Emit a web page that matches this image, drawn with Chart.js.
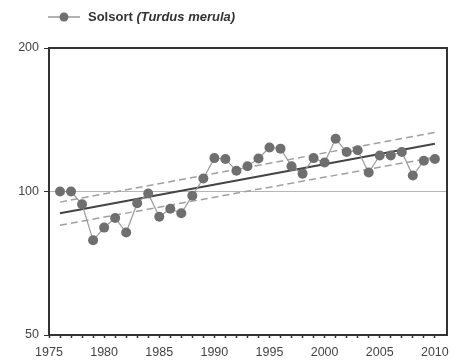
<!DOCTYPE html>
<html>
<head>
<meta charset="utf-8">
<script src="https://cdn.jsdelivr.net/npm/chart.js@4"></script>
<style>
	html, body { margin: 0; padding: 0; background: #fff; }
	#wrap { width: 452px; height: 361px; position: relative; }
</style>
</head>
<body>
<div id="wrap"><canvas id="chart"></canvas></div>
<script>
// data
const years = [1976, 1977, 1978, 1979, 1980, 1981, 1982, 1983, 1984, 1985, 1986, 1987, 1988, 1989,
	1990, 1991, 1992, 1993, 1994, 1995, 1996, 1997, 1998, 1999, 2000, 2001, 2002, 2003, 2004,
	2005, 2006, 2007, 2008, 2009, 2010];
const index = [100, 100, 94, 79, 84, 88, 82, 94.5, 99, 88.5, 92, 90, 98, 106.5,
	117.5, 117, 110.5, 113, 117.3, 123.7, 123, 113, 109, 117.5, 115, 129, 121, 122, 109.6,
	119, 119, 121, 108, 116, 117];
const trendYears = [1976, 2010];
const trend = [90, 126];
const upper = [95, 133];
const lower = [85, 118];
const baseline = [100, 100];
const baseYears = [1975, 2011.1];
const xLabels = [1975, 1980, 1985, 1990, 1995, 2000, 2005, 2010];
const yLabels = [50, 100, 200];

const seriesName = "Solsort";
const seriesLatin = "(Turdus merula)";

const font = "'Liberation Sans', Arial, sans-serif";
const pointColor = "#6f6f6f";

function points(xs, ys)
{
	return xs.map((x, i) => ({x, y: ys[i]}));
}

const frame = {
	id: "frame",
	afterDatasetsDraw(chart)
	{
		const {ctx, chartArea: a} = chart;
		ctx.save();
		ctx.strokeStyle = "#333";
		ctx.lineWidth = 2;
		ctx.strokeRect(a.left, a.top, a.right - a.left, a.bottom - a.top);
		ctx.restore();
	}
};

const legend = {
	id: "customLegend",
	afterDraw(chart)
	{
		const ctx = chart.ctx;
		const y = 17;
		ctx.save();
		ctx.strokeStyle = "#999";
		ctx.lineWidth = 1.5;
		ctx.beginPath();
		ctx.moveTo(48, y);
		ctx.lineTo(80, y);
		ctx.stroke();
		ctx.fillStyle = pointColor;
		ctx.beginPath();
		ctx.arc(64, y, 4.5, 0, Math.PI * 2);
		ctx.fill();
		ctx.fillStyle = "#333";
		ctx.textBaseline = "middle";
		ctx.font = "bold 13px " + font;
		ctx.fillText(seriesName, 88, y);
		const w = ctx.measureText(seriesName + " ").width;
		ctx.font = "italic bold 13px " + font;
		ctx.fillText(seriesLatin, 88 + w, y);
		ctx.restore();
	}
};

new Chart(document.getElementById("chart"), {
	type: "line",
	data: {
		datasets: [
			{data: points(years, index), borderColor: "#9a9a9a", borderWidth: 1.2,
				pointRadius: 5, pointBackgroundColor: pointColor, pointBorderWidth: 0, order: 0},
			{data: points(trendYears, trend), borderColor: "#444", borderWidth: 2, pointRadius: 0, order: 1},
			{data: points(trendYears, upper), borderColor: "#a0a0a0", borderWidth: 1.5,
				borderDash: [7, 4], pointRadius: 0, order: 2},
			{data: points(trendYears, lower), borderColor: "#a0a0a0", borderWidth: 1.5,
				borderDash: [7, 4], pointRadius: 0, order: 3},
			{data: points(baseYears, baseline), borderColor: "#b5b5b5", borderWidth: 1.2, pointRadius: 0, order: 4}
		]
	},
	options: {
		responsive: true,
		maintainAspectRatio: false,
		animation: false,
		layout: {padding: {top: 48, right: 5, left: 0, bottom: 0}},
		plugins: {legend: {display: false}, tooltip: {enabled: false}},
		scales: {
			x: {
				type: "linear",
				min: 1975,
				max: 2011.1,
				afterBuildTicks: s => { s.ticks = years.concat([1975]).sort().map(v => ({value: v})); },
				afterFit: s => { s.height = 26; s.paddingLeft = 0; s.paddingRight = 0; },
				grid: {display: true, drawOnChartArea: false, tickLength: 3, color: "#333", tickWidth: 1.5},
				border: {display: false},
				ticks: {
					autoSkip: false,
					maxRotation: 0,
					padding: 7,
					color: "#444",
					font: {family: font, size: 12.5},
					callback: v => xLabels.includes(v) ? String(v) : ""
				}
			},
			y: {
				type: "logarithmic",
				min: 50,
				max: 200,
				afterBuildTicks: s => { s.ticks = yLabels.map(v => ({value: v})); },
				afterFit: s => { s.width = 49; s.paddingTop = 0; s.paddingBottom = 0; },
				grid: {display: true, drawOnChartArea: false, tickLength: 5, color: "#333", tickWidth: 1},
				border: {display: false},
				ticks: {
					padding: 5,
					color: "#444",
					font: {family: font, size: 12.5},
					callback: v => String(v)
				}
			}
		}
	},
	plugins: [frame, legend]
});
</script>
</body>
</html>
